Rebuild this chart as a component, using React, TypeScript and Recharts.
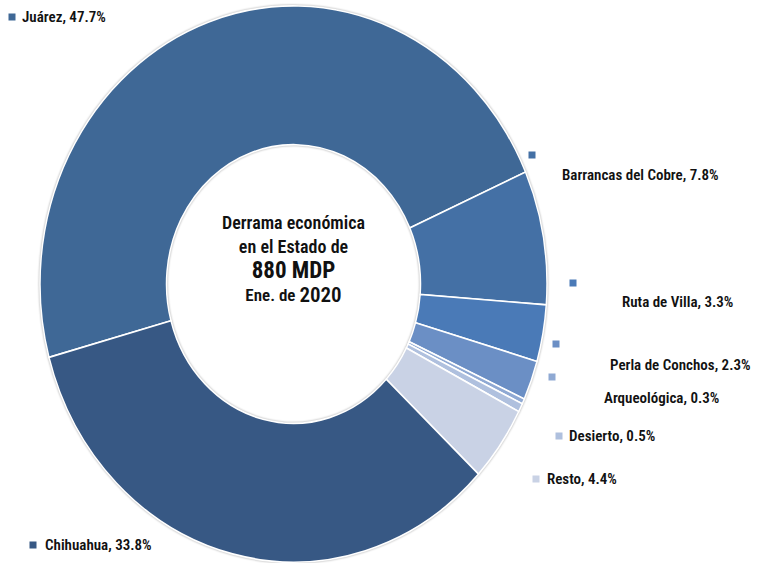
import { PieChart, Pie, Cell } from 'recharts';

const names = ['Juárez', 'Barrancas del Cobre', 'Ruta de Villa', 'Perla de Conchos', 'Arqueológica', 'Desierto', 'Resto', 'Chihuahua'];
const shares = [47.7, 7.8, 3.3, 2.3, 0.3, 0.5, 4.4, 33.8];
const colors = ['#3F6896', '#4470A5', '#4A7AB7', '#6B8FC5', '#8FA9D3', '#AFC0DE', '#C9D2E5', '#375884'];
const labelText = ['Juárez, 47.7%', 'Barrancas del Cobre, 7.8%', 'Ruta de Villa, 3.3%', 'Perla de Conchos,  2.3%', 'Arqueológica, 0.3%', 'Desierto, 0.5%', 'Resto, 4.4%', 'Chihuahua,  33.8%'];

// label layout: marker position and text position
const labelLayout = [
    { mx: 12, my: 17, tx: 22, ty: 17 },
    { mx: 532, my: 155, tx: 562, ty: 175 },
    { mx: 573, my: 283, tx: 622, ty: 302 },
    { mx: 556, my: 344, tx: 610, ty: 365 },
    { mx: 552, my: 377, tx: 604, ty: 398 },
    { mx: 559, my: 436, tx: 569, ty: 436 },
    { mx: 536, my: 479, tx: 547, ty: 479 },
    { mx: 33, my: 545, tx: 45, ty: 545 },
];

const data = names.map((name, i) => ({ name, value: shares[i] }));

const CX = 293.5;
const CY = 284;
const font = '"Liberation Sans Narrow", "Roboto Condensed", Arial, sans-serif';

export default function App() {
    return (
        <div style={{ position: 'absolute', left: 0, top: 0, width: 772, height: 563, background: '#fff' }}>
            <style>{`g.recharts-pie.donut { transform: scaleY(1.097); transform-origin: ${CX}px ${CY}px; filter: drop-shadow(0 0 1.2px rgba(0,0,0,0.35)); }`}</style>
            <PieChart width={772} height={563} margin={{ top: 0, right: 0, bottom: 0, left: 0 }}>
                <Pie
                    className="donut"
                    data={data}
                    dataKey="value"
                    cx={CX}
                    cy={CY}
                    innerRadius={127}
                    outerRadius={253.5}
                    startAngle={195.3}
                    endAngle={-164.7}
                    stroke="#fff"
                    strokeWidth={1.5}
                    isAnimationActive={false}
                >
                    {data.map((d, i) => (
                        <Cell key={d.name} fill={colors[i]} />
                    ))}
                </Pie>
                <g fontFamily={font} fontWeight={600} fill="#111">
                    {labelText.map((t, i) => (
                        <g key={t}>
                            <rect x={labelLayout[i].mx - 3.5} y={labelLayout[i].my - 3.5} width={7} height={7} fill={colors[i]} />
                            <text x={labelLayout[i].tx} y={labelLayout[i].ty} dominantBaseline="central" fontSize={15} fill="#111">
                                {t}
                            </text>
                        </g>
                    ))}
                    <text x={CX} y={222} textAnchor="middle" dominantBaseline="central" fontSize={18}>Derrama económica</text>
                    <text x={CX} y={246} textAnchor="middle" dominantBaseline="central" fontSize={18}>en el Estado de</text>
                    <text x={CX} y={270} textAnchor="middle" dominantBaseline="central" fontSize={23} fontWeight={700}>880 MDP</text>
                    <text x={CX} y={295} textAnchor="middle" dominantBaseline="central">
                        <tspan fontSize={17}>Ene. de </tspan>
                        <tspan fontSize={21}>2020</tspan>
                    </text>
                </g>
            </PieChart>
        </div>
    );
}
